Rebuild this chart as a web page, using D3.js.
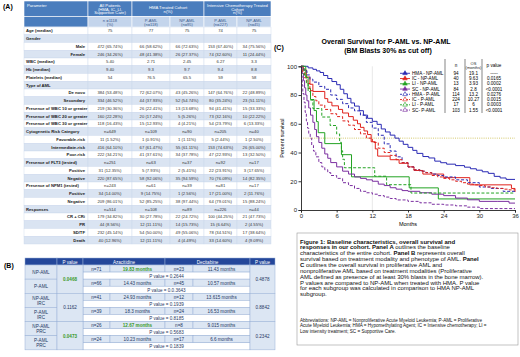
<!DOCTYPE html>
<html>
<head>
<meta charset="utf-8">
<script src="https://cdn.jsdelivr.net/npm/d3@7"></script>
<style>
  body { margin: 0; background: #fff; }
  svg { display: block; font-family: Arial, "Liberation Sans", sans-serif; }
</style>
</head>
<body>
<div id="fig"></div>
<script>
// ---------- Panel A data ----------
const aHeadTop = ["Parameter", "All Patients\n(HMA, IC, LI,\nSupportive Care)", "HMA Treated Cohort\nn(%)", "Intensive Chemotherapy Treated\nCohort\nn(%)"];
const aHeadSub = ["", "n =1118\n(%)", "P-AML\n(n=118)", "NP-AML\n(n=95)", "P-AML\n(n=227)", "NP-AML\n(n=45)"];
const aLabels = ["Age (median)", "Gender", "Male", "Female", "WBC (median)", "Hb (median)", "Platelets (median)",
  "Type of AML", "De novo", "Secondary", "Presence of WBC 10 or greater", "Presence of WBC 20 or greater",
  "Presence of WBC 30 or greater", "Cytogenetic Risk Category", "Favorable-risk", "Intermediate-risk", "Poor-risk",
  "Presence of FLT3 (tested)", "Positive", "Negative", "Presence of NPM1 (tested)", "Positive", "Negative",
  "Responses", "CR + CRi", "PR", "SD/TF", "Death"];
const aSubItems = [2, 3, 8, 9, 14, 15, 16, 18, 19, 21, 22, 24, 25, 26, 27];
const aValues = [
  ["75", "77", "75", "74", "75"],
  ["", "", "", "", ""],
  ["472 (65.74%)", "66 (58.62%)", "66 (72.63%)", "153 (67.40%)", "34 (75.56%)"],
  ["246 (34.26%)", "48 (41.38%)", "26 (27.37%)", "74 (32.60%)", "11 (24.44%)"],
  ["5.40", "2.71", "2.45", "6.27", "3.3"],
  ["9.40", "9.3", "9.7", "9.4", "8.8"],
  ["54", "76.5", "65.5", "59", "58"],
  ["", "", "", "", ""],
  ["384 (53.48%)", "72 (62.07%)", "43 (45.26%)", "147 (64.76%)", "22 (48.89%)"],
  ["334 (46.52%)", "44 (37.93%)", "52 (54.74%)", "80 (35.24%)", "23 (51.11%)"],
  ["219 (30.36%)", "26 (22.41%)", "13 (13.68%)", "94 (41.41%)", "15 (33.33%)"],
  ["160 (22.28%)", "20 (17.24%)", "5 (5.26%)", "73 (32.16%)", "10 (22.22%)"],
  ["118 (16.43%)", "15 (12.93%)", "4 (4.21%)", "54 (23.79%)", "6 (13.33%)"],
  ["n=649", "n=109", "n=90", "n=205", "n=40"],
  ["11 (1.52%)", "1 (0.91%)", "1 (1.11%)", "5 (2.44%)", "1 (2.50%)"],
  ["416 (64.10%)", "67 (61.47%)", "55 (61.11%)", "153 (74.63%)", "26 (65.00%)"],
  ["222 (34.21%)", "41 (37.61%)", "34 (37.78%)", "47 (22.93%)", "13 (32.50%)"],
  ["n=251", "n=63", "n=37", "n=92", "n=17"],
  ["31 (12.35%)", "5 (7.93%)", "2 (5.41%)", "22 (23.91%)", "3 (17.65%)"],
  ["220 (87.65%)", "58 (92.06%)", "35 (94.59%)", "70 (76.09%)", "14 (82.35%)"],
  ["n=243", "n=61", "n=39", "n=81", "n=17"],
  ["34 (14.00%)", "9 (14.75%)", "1 (2.56%)", "17 (21.00%)", "2 (11.76%)"],
  ["209 (86.01%)", "52 (85.25%)", "38 (97.44%)", "64 (79.01%)", "15 (88.24%)"],
  ["n=514", "n=108", "n=89", "n=226", "n=44"],
  ["179 (34.82%)", "30 (27.78%)", "22 (24.72%)", "100 (44.25%)", "21 (47.73%)"],
  ["44 (8.56%)", "12 (11.11%)", "14 (15.73%)", "15 (6.64%)", "2 (4.55%)"],
  ["232 (45.14%)", "54 (50.00%)", "49 (55.06%)", "78 (34.51%)", "17 (38.64%)"],
  ["40 (12.96%)", "12 (11.11%)", "4 (4.49%)", "33 (14.60%)", "4 (9.09%)"]
];

// ---------- Panel B data ----------
const bGroups = ["NP-AML", "P-AML", "NP-AML\nIRC", "P-AML\nIRC", "NP-AML\nPRC", "P-AML\nPRC"];
const bAzaN = ["n=71", "n=66", "n=41", "n=39", "n=26", "n=24"];
const bAzaOS = ["19.83 months", "14.43 months", "24.93 months", "18.3 months", "12.67 months", "10.23 months"];
const bDecN = ["n=23", "n=45", "n=12", "n=24", "n=8", "n=17"];
const bDecOS = ["11.43 months", "10.57 months", "13.615 months", "16.53 months", "9.015 months", "6.6 months"];
const bRowP = ["P value = 0.2644", "P value = 0.0.3643", "P value = 0.1939", "P value = 0.8185", "P value = 0.5683", "P value = 0.1839"];
const bPhenoP = ["0.0468", "0.1162", "0.0473"];
const bDrugP = ["0.4878", "0.8842", "0.2342"];
const bSignif = ["19.83 months", "12.67 months", "0.0468", "0.0473"];

// ---------- Panel C data (Kaplan-Meier, [month, % survival]) ----------
const hmaNP = [[0,100],[1.2,98.9],[2,97.9],[2.6,96.8],[3.2,95.7],[3.8,93.6],[4.5,91.5],[5.2,89.4],[6,87.2],[6.6,84],[7.2,80.9],[7.8,77.7],[8.4,74.5],[9,72.3],[9.8,69.1],[10.5,66],[11.2,63.8],[12,61.7],[12.8,59.6],[13.5,56.4],[14.2,54.3],[15,52.1],[15.8,50],[16.5,47.9],[17.2,45.7],[18,43.6],[18.8,41.5],[19.5,39.4],[20.5,37.2],[21.5,36.2],[22.5,34],[23.5,32.9],[24.5,31.9],[26,30.9],[27.5,29.8],[28.5,28.7],[29.5,27.7],[30.5,26.6],[31.5,25.5],[32.5,23.4],[33.5,22.3],[34.5,21.3],[36,21.3]];
const icNP = [[0,100],[0.4,97.5],[0.9,92.5],[1.5,87.5],[2,82.5],[4,77.5],[4.5,75],[5.2,72.5],[6.3,70],[7,67.5],[8,65],[8.8,62.5],[9.5,60],[10,57.5],[10.6,55],[11.2,52.5],[11.8,47.5],[12.5,42.5],[12.9,37.5],[15,35],[16.5,32.5],[18,30],[19,27.5],[20.5,25],[24,22.5],[28.4,17.5],[35.4,15],[36,12.5]];
const liNP = [[0,100],[0.8,92.3],[1.2,84.6],[1.6,76.9],[2.2,69.2],[2.6,61.5],[2.9,53.8],[4,46.2],[6.8,38.5],[8.5,23.1],[18.2,15.4],[23.1,7.7],[36,7.7]];
const scNP = [[0,100],[0.2,95],[0.4,90],[0.6,85],[0.8,80],[1,76],[1.3,71],[1.6,66],[2,61],[2.3,56],[2.6,51],[3,47],[3.5,43],[4,39],[4.5,36],[5,33],[6,30],[7,27],[8,25],[9,23],[10,22],[11,21],[12,20],[13,18],[14,17],[15,15.5],[16,14.5],[17,13.5],[18,13],[20,12],[22,11],[24,10],[26,8.3],[28,7.1],[30,6],[33,6],[35,4.8],[36,4.8]];
const hmaP = [[0,100],[0.5,97],[1,94],[1.5,91],[2,89],[3,86],[4,84],[5,80],[6,77],[7,74],[8,71],[9,69],[10,66],[11,61],[12,57],[13,52],[14,46],[15,41],[16,37],[17,33],[18,30],[19,28],[20,27],[21,26],[22,25],[23,24],[24,23],[26,21],[28,19],[30,16],[32,15],[34,13],[36,13]];
const icP = [[0,100],[0.3,96],[0.6,92],[1,88],[1.5,83],[2,79],[2.5,76],[3,73],[4,70],[5,67],[6,65],[7,62],[8,59],[9,56],[10,53],[11,50],[12,47],[13,43],[14,40],[15,38],[16,35],[17,33],[18,30],[19,28],[20,27],[21,26],[22,24],[23,23],[24,22],[25,21],[26,20],[27,19],[28,18],[29,17.5],[30,17],[31,16],[32,15.5],[33,15],[34,14.5],[35,14],[36,14]];
const liP = [[0,100],[0.5,94.1],[0.9,88.2],[1.2,82.4],[1.6,76.5],[2,70.6],[3.5,64.7],[4.9,58.8],[6,52.9],[6.5,47.1],[6.8,41.2],[7,35.3],[7.3,29.4],[12.4,23.5],[14.4,17.6],[18.5,11.8],[36,11.8]];
const scP = [[0,100],[0.1,93],[0.2,87],[0.3,81],[0.5,75],[0.7,68],[0.9,62],[1.1,57],[1.3,53],[1.55,50],[1.8,45],[2.1,41],[2.5,37],[3,33],[3.5,30],[4,28],[4.5,26],[5,24],[6,22],[7,19],[8,17],[9,15],[10,13],[11,12],[12,11],[13,10],[14,9],[15,8],[16,7],[18,6],[20,5],[22,4],[24,3.5],[26,2.9],[28,2],[30,1],[36,1]];

const kmNames = ["HMA - NP-AML", "IC - NP-AML", "LI - NP-AML", "SC - NP-AML", "HMA - P-AML", "IC - P-AML", "LI - P-AML", "SC- P-AML"];
const kmSeries = [hmaNP, icNP, liNP, scNP, hmaP, icP, liP, scP];
const kmN = ["94", "40", "13", "84", "114", "224", "17", "103"];
const kmOS = ["19.1", "9.63", "3.93", "2.8", "13.2", "10.27", "6", "1.55"];
const kmP = ["-----", "0.0165", "0.0002", "<0.0001", "0.0276", "0.0015", "0.0003", "<0.0001"];
const xTicks = [0, 6, 12, 18, 24, 30, 36];
const yTicks = [0, 20, 40, 60, 80, 100];

const captionLines = [
  [["Figure 1:  Baseline characteristics, overall survival and", true]],
  [["responses in our cohort.  Panel A ", true], ["outlines the baseline", false]],
  [["characteristics of the entire cohort.  ", false], ["Panel B ", true], ["represents overall", false]],
  [["survival based on treatment modality and phenotype of AML.  ", false], ["Panel", true]],
  [["C ", true], ["outlines the overall survival in proliferative AML and", false]],
  [["nonproliferative AML based on treatment modalities (Proliferative", false]],
  [["AML defined as presence of at least 30% blasts in the bone marrow).", false]],
  [["P values are compared to NP-AML when treated with HMA.  P value", false]],
  [["for each subgroup was calculated in comparison to HMA NP-AML", false]],
  [["subgroup.", false]]
];
const abbrevLines = [
  "Abbreviations:  NP-AML = Nonproliferative Acute Myeloid Leukemia; P-AML = Proliferative",
  "Acute Myeloid Leukemia; HMA = Hypomethylating Agent; IC = Intensive chemotherapy; LI =",
  "Low intensity treatment; SC = Supportive Care."
];

// ---------- setup ----------
const W = 520, H = 357;
const svg = d3.select("#fig").append("svg").attr("width", W).attr("height", H);
svg.append("rect").attr("width", W).attr("height", H).attr("fill", "#fff");

const BLUE_HEAD = "#4a7dbd", BLUE_SUB = "#c4d5ec", BLUE_ROW = "#dae4f2";

function lines(g, x, y, txt, lh, opts) {
  const parts = txt.split("\n");
  const t = g.append("text").attr("x", x).attr("y", y - (parts.length - 1) * lh / 2)
    .attr("text-anchor", opts.anchor || "middle").attr("dominant-baseline", "central")
    .attr("font-size", opts.size).attr("fill", opts.fill || "#222")
    .attr("font-weight", opts.bold ? "bold" : "normal");
  parts.forEach((p, i) => t.append("tspan").attr("x", x).attr("dy", i === 0 ? 0 : lh).text(p));
  return t;
}

// ---------- Panel A ----------
const gA = svg.append("g");
gA.append("text").attr("x", 3).attr("y", 9).attr("font-size", 7).attr("font-weight", "bold").text("(A)");
const aCols = [24, 88, 132, 170, 204, 237, 271];
const aTop = 1, aH1 = 15.5, aH2 = 10.5, aRowH = 7.75;
const aBodyTop = aTop + aH1 + aH2;

// header row 1
const topSpans = [[0, 1], [1, 2], [2, 4], [4, 6]];
topSpans.forEach((s, i) => {
  gA.append("rect").attr("x", aCols[s[0]]).attr("y", aTop).attr("width", aCols[s[1]] - aCols[s[0]])
    .attr("height", aH1).attr("fill", BLUE_HEAD).attr("stroke", "#fff").attr("stroke-width", 0.6);
  if (i === 0) {
    lines(gA, aCols[0] + 3, aTop + 4, aHeadTop[i], 3.6, { size: 4.2, fill: "#fff", anchor: "start" });
  } else {
    lines(gA, (aCols[s[0]] + aCols[s[1]]) / 2, aTop + aH1 / 2, aHeadTop[i], 3.6, { size: 4.2, fill: "#fff" });
  }
});
// header row 2
aHeadSub.forEach((t, i) => {
  gA.append("rect").attr("x", aCols[i]).attr("y", aTop + aH1).attr("width", aCols[i + 1] - aCols[i])
    .attr("height", aH2).attr("fill", i === 0 ? BLUE_HEAD : BLUE_SUB).attr("stroke", "#fff").attr("stroke-width", 0.6);
  if (t) lines(gA, (aCols[i] + aCols[i + 1]) / 2, aTop + aH1 + aH2 / 2, t, 3.8, { size: 4.1, fill: "#3a5a8c" });
});
// body
aLabels.forEach((lab, r) => {
  const y0 = aBodyTop + r * aRowH;
  const fill = r % 2 === 0 ? "#fff" : BLUE_ROW;
  for (let c = 0; c < 6; c++) {
    gA.append("rect").attr("x", aCols[c]).attr("y", y0).attr("width", aCols[c + 1] - aCols[c])
      .attr("height", aRowH).attr("fill", fill).attr("stroke", "#c9d6ea").attr("stroke-width", 0.4);
  }
  const sub = aSubItems.includes(r);
  gA.append("text").attr("x", sub ? aCols[1] - 3 : aCols[0] + 2).attr("y", y0 + aRowH / 2)
    .attr("dominant-baseline", "central").attr("text-anchor", sub ? "end" : "start")
    .attr("font-size", 4.2).attr("font-weight", "bold").attr("fill", "#1a1a1a").text(lab);
  aValues[r].forEach((v, c) => {
    gA.append("text").attr("x", (aCols[c + 1] + aCols[c + 2]) / 2).attr("y", y0 + aRowH / 2)
      .attr("dominant-baseline", "central").attr("text-anchor", "middle")
      .attr("font-size", 4.2).attr("fill", "#333").text(v);
  });
});

// ---------- Panel B ----------
const gB = svg.append("g");
gB.append("text").attr("x", 4).attr("y", 268).attr("font-size", 7).attr("font-weight", "bold").text("(B)");
const bCols = [25, 57, 83, 110, 165, 193, 250, 275];
const bTop = 258, bHeadH = 7, bSubH = 7.07;
const B_HEAD = "#24479a", B_CELL = "#dce6f3", B_LINE = "#98b0d6", B_TXT = "#1f3864";

function bCell(x0, x1, y0, h, fill) {
  gB.append("rect").attr("x", x0).attr("y", y0).attr("width", x1 - x0).attr("height", h)
    .attr("fill", fill).attr("stroke", B_LINE).attr("stroke-width", 0.5);
}
function bText(x, y, t, opts) {
  const col = bSignif.includes(t) ? "#3a9a2a" : (opts.fill || B_TXT);
  return lines(gB, x, y, t, 5, { size: opts.size || 4.6, fill: col, bold: opts.bold || bSignif.includes(t) });
}
// header
const bHead = [[0, 1, ""], [1, 2, "P value"], [2, 4, "Azacitidine"], [4, 6, "Decitabine"], [6, 7, "P value"]];
bHead.forEach(h => {
  bCell(bCols[h[0]], bCols[h[1]], bTop, bHeadH, B_HEAD);
  if (h[2]) lines(gB, (bCols[h[0]] + bCols[h[1]]) / 2, bTop + bHeadH / 2, h[2], 5, { size: 4.6, fill: "#fff" });
});
const bBody = bTop + bHeadH;
bGroups.forEach((g, i) => {
  const y0 = bBody + i * 2 * bSubH;
  bCell(bCols[0], bCols[1], y0, 2 * bSubH, B_CELL);
  bText((bCols[0] + bCols[1]) / 2, y0 + bSubH, g, { size: 4.6 });
  // n / OS row
  [[2, bAzaN[i]], [3, bAzaOS[i]], [4, bDecN[i]], [5, bDecOS[i]]].forEach(c => {
    bCell(bCols[c[0]], bCols[c[0] + 1], y0, bSubH, B_CELL);
    bText((bCols[c[0]] + bCols[c[0] + 1]) / 2, y0 + bSubH / 2, c[1], {});
  });
  // p value row
  bCell(bCols[2], bCols[6], y0 + bSubH, bSubH, "#fff");
  bText((bCols[2] + bCols[6]) / 2, y0 + bSubH * 1.5, bRowP[i], {});
});
bPhenoP.forEach((p, k) => {
  const y0 = bBody + k * 4 * bSubH;
  bCell(bCols[1], bCols[2], y0, 4 * bSubH, B_CELL);
  bText((bCols[1] + bCols[2]) / 2, y0 + 2 * bSubH, p, {});
  bCell(bCols[6], bCols[7], y0, 4 * bSubH, B_CELL);
  bText((bCols[6] + bCols[7]) / 2, y0 + 2 * bSubH, bDrugP[k], {});
});

// ---------- Panel C ----------
const gC = svg.append("g");
gC.append("text").attr("x", 274).attr("y", 50).attr("font-size", 7).attr("font-weight", "bold").text("(C)");
gC.append("text").attr("x", 386).attr("y", 44).attr("text-anchor", "middle").attr("font-size", 7)
  .attr("font-weight", "bold").text("Overall Survival for P-AML vs. NP-AML");
gC.append("text").attr("x", 388).attr("y", 53).attr("text-anchor", "middle").attr("font-size", 7)
  .attr("font-weight", "bold").text("(BM Blasts 30% as cut off)");

const x = d3.scaleLinear().domain([0, 36]).range([301, 515]);
const y = d3.scaleLinear().domain([0, 100]).range([210, 66.3]);
const colors = ["#2a2ab4", "#e0221c", "#23a323", "#7b2fa0"];

gC.append("line").attr("x1", x(12)).attr("x2", x(12)).attr("y1", y(100)).attr("y2", y(0))
  .attr("stroke", "#e2e2e2").attr("stroke-width", 0.8);
gC.append("line").attr("x1", x(0)).attr("x2", x(36)).attr("y1", y(50)).attr("y2", y(50))
  .attr("stroke", "#cfc35a").attr("stroke-width", 0.9).attr("stroke-dasharray", "1,1.2");

const line = d3.line().x(d => x(d[0])).y(d => y(d[1])).curve(d3.curveStepAfter);
kmSeries.forEach((s, i) => {
  gC.append("path").datum(s).attr("d", line).attr("fill", "none")
    .attr("stroke", colors[i % 4]).attr("stroke-width", 1)
    .attr("stroke-dasharray", i >= 4 ? "3,1.8" : null);
});

const xAxis = gC.append("g").attr("transform", "translate(0," + y(0) + ")")
  .call(d3.axisBottom(x).tickValues(xTicks).tickSize(2.5).tickPadding(1.5));
const yAxis = gC.append("g").attr("transform", "translate(" + x(0) + ",0)")
  .call(d3.axisLeft(y).tickValues(yTicks).tickSize(2.5).tickPadding(1.5));
[xAxis, yAxis].forEach(a => {
  a.selectAll("text").attr("font-size", 6).attr("fill", "#222").attr("font-family", "Arial, 'Liberation Sans', sans-serif");
  a.selectAll("path,line").attr("stroke", "#222").attr("stroke-width", 0.9);
});
gC.append("text").attr("x", x(18)).attr("y", 226).attr("text-anchor", "middle").attr("font-size", 5.5).text("Months");
gC.append("text").attr("transform", "translate(284," + y(50) + ") rotate(-90)").attr("text-anchor", "middle")
  .attr("font-size", 5.5).text("Percent survival");

// legend
const lgY0 = 73.3, lgStep = 5.25, lgFs = 4.6;
const lgCols = { n: 456, os: 473.5, p: 494 };
[445, 465, 482].forEach(vx => gC.append("line").attr("x1", vx).attr("x2", vx).attr("y1", 59).attr("y2", 113)
  .attr("stroke", "#333").attr("stroke-width", 0.6));
gC.append("text").attr("x", lgCols.n).attr("y", 67).attr("text-anchor", "middle").attr("font-size", lgFs).text("n");
lines(gC, lgCols.os, 65, "OS\n(months)", 4.4, { size: lgFs - 0.6 });
gC.append("text").attr("x", lgCols.p).attr("y", 67).attr("text-anchor", "middle").attr("font-size", lgFs).text("p value");
kmNames.forEach((nm, i) => {
  const ly = lgY0 + i * lgStep;
  const col = colors[i % 4];
  gC.append("line").attr("x1", 400).attr("x2", 410).attr("y1", ly).attr("y2", ly).attr("stroke", col)
    .attr("stroke-width", 0.9).attr("stroke-dasharray", i >= 4 ? "2,1" : null);
  gC.append("path").attr("d", d3.symbol(d3.symbolTriangle, 9)()).attr("transform", "translate(405," + ly + ")")
    .attr("fill", i >= 4 ? "#fff" : col).attr("stroke", col).attr("stroke-width", 0.6);
  gC.append("text").attr("x", 412).attr("y", ly).attr("dominant-baseline", "central").attr("font-size", lgFs).text(nm);
  gC.append("text").attr("x", lgCols.n).attr("y", ly).attr("dominant-baseline", "central").attr("text-anchor", "middle").attr("font-size", lgFs).text(kmN[i]);
  gC.append("text").attr("x", lgCols.os).attr("y", ly).attr("dominant-baseline", "central").attr("text-anchor", "middle").attr("font-size", lgFs).text(kmOS[i]);
  gC.append("text").attr("x", lgCols.p).attr("y", ly).attr("dominant-baseline", "central").attr("text-anchor", "middle").attr("font-size", lgFs).text(kmP[i]);
});

// caption box
gC.append("rect").attr("x", 297).attr("y", 233).attr("width", 221).attr("height", 112)
  .attr("fill", "#fff").attr("stroke", "#999").attr("stroke-width", 0.6);
captionLines.forEach((ln, i) => {
  const t = gC.append("text").attr("x", 300).attr("y", 243.5 + i * 5.86).attr("font-size", 6).attr("fill", "#111");
  ln.forEach(seg => t.append("tspan").attr("font-weight", seg[1] ? "bold" : "normal").text(seg[0]));
});
abbrevLines.forEach((ln, i) => {
  gC.append("text").attr("x", 300).attr("y", 321.5 + i * 5.7).attr("font-size", 4.6).attr("fill", "#111").text(ln);
});
</script>
</body>
</html>
